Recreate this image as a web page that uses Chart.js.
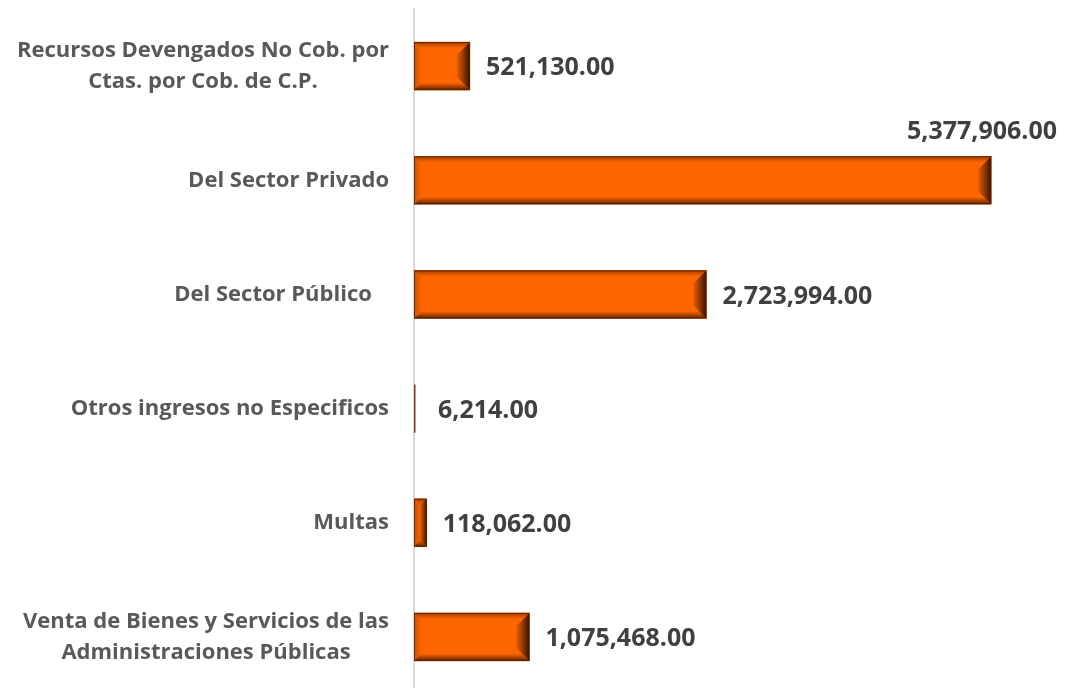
<!DOCTYPE html>
<html>
<head>
<meta charset="utf-8">
<script src="https://cdn.jsdelivr.net/npm/chart.js@4.4.1/dist/chart.umd.min.js"></script>
<style>
  html, body { margin: 0; padding: 0; background: #fff; overflow: hidden; }
  #wrap { position: relative; width: 1067px; height: 694px; }
</style>
</head>
<body>
<div id="wrap"><canvas id="chart"></canvas></div>
<script>
/* ── Data ─────────────────────────────────────────────────── */
var categories = [
  ['Recursos Devengados No Cob. por', 'Ctas. por Cob. de C.P.'],
  ['Del Sector Privado'],
  ['Del Sector Público   '],
  ['Otros ingresos no Especificos'],
  ['Multas'],
  ['Venta de Bienes y Servicios de las', 'Administraciones Públicas']
];
var values = [521130, 5377906, 2723994, 6214, 118062, 1075468];

var barColor   = '#FF6600';
var labelColor = '#595959';
var valueColor = '#404040';
var fontFamily = '"Open Sans", "DejaVu Sans", sans-serif';

function fmt(v) {
  return v.toLocaleString('en-US', { minimumFractionDigits: 2, maximumFractionDigits: 2 });
}

/* ── Bevel look on each bar ───────────────────────────────── */
var bevelPlugin = {
  id: 'bevel',
  afterDatasetsDraw: function(chart) {
    var ctx = chart.ctx;
    chart.getDatasetMeta(0).data.forEach(function(el) {
      var l = el.base, r = el.x, t = el.y - el.height / 2, b = el.y + el.height / 2;
      var w = r - l;
      ctx.save();
      if (w < 4) {
        ctx.fillStyle = '#7a3a1a';
        ctx.fillRect(l, t, Math.max(w, 1.5), b - t);
        ctx.restore();
        return;
      }
      var s = Math.min(13, w / 2);
      var g;
      // right bevel
      g = ctx.createLinearGradient(r - s, 0, r, 0);
      g.addColorStop(0, 'rgba(70,25,0,0.15)');
      g.addColorStop(1, 'rgba(40,12,0,0.95)');
      ctx.fillStyle = g;
      ctx.beginPath();
      ctx.moveTo(r, t); ctx.lineTo(r, b); ctx.lineTo(r - s, b - s); ctx.lineTo(r - s, t + s); ctx.closePath();
      ctx.fill();
      // bottom bevel
      g = ctx.createLinearGradient(0, b - 7, 0, b);
      g.addColorStop(0, 'rgba(70,25,0,0.05)');
      g.addColorStop(1, 'rgba(50,15,0,0.8)');
      ctx.fillStyle = g;
      ctx.beginPath();
      ctx.moveTo(l, b); ctx.lineTo(r, b); ctx.lineTo(r - 7, b - 7); ctx.lineTo(l + 7, b - 7); ctx.closePath();
      ctx.fill();
      // top bevel
      g = ctx.createLinearGradient(0, t, 0, t + 6);
      g.addColorStop(0, 'rgba(60,20,0,0.5)');
      g.addColorStop(1, 'rgba(60,20,0,0)');
      ctx.fillStyle = g;
      ctx.beginPath();
      ctx.moveTo(l, t); ctx.lineTo(r, t); ctx.lineTo(r - 6, t + 6); ctx.lineTo(l + 6, t + 6); ctx.closePath();
      ctx.fill();
      // left bevel
      g = ctx.createLinearGradient(l, 0, l + 8, 0);
      g.addColorStop(0, 'rgba(60,20,0,0.25)');
      g.addColorStop(1, 'rgba(60,20,0,0)');
      ctx.fillStyle = g;
      ctx.beginPath();
      ctx.moveTo(l, t); ctx.lineTo(l + 8, t + 8); ctx.lineTo(l + 8, b - 8); ctx.lineTo(l, b); ctx.closePath();
      ctx.fill();
      ctx.strokeStyle = 'rgba(80,30,0,0.8)';
      ctx.lineWidth = 1;
      ctx.strokeRect(l + 0.5, t + 0.5, w - 1, b - t - 1);
      ctx.restore();
    });
  }
};

/* ── Category labels (block right-aligned, lines centred) ─── */
var catLabelPlugin = {
  id: 'catLabels',
  afterDraw: function(chart) {
    var ctx = chart.ctx;
    var yScale = chart.scales.y;
    var right = chart.chartArea.left - 25;
    var lineH = 31;
    ctx.save();
    ctx.font = 'bold 22px ' + fontFamily;
    ctx.fillStyle = labelColor;
    ctx.textAlign = 'center';
    ctx.textBaseline = 'middle';
    categories.forEach(function(lines, i) {
      var y = yScale.getPixelForTick(i);
      var maxW = 0;
      lines.forEach(function(s) { maxW = Math.max(maxW, ctx.measureText(s.trim()).width); });
      var cx = right - maxW / 2;
      var y0 = y - (lines.length - 1) * lineH / 2;
      lines.forEach(function(s, k) {
        var sx = cx;
        if (lines.length === 1) sx = right - ctx.measureText(s).width / 2;
        ctx.fillText(s, sx, y0 + k * lineH);
      });
    });
    ctx.restore();
  }
};

/* ── Value labels ─────────────────────────────────────────── */
var valueLabelPlugin = {
  id: 'valueLabels',
  afterDatasetsDraw: function(chart) {
    var ctx = chart.ctx;
    var area = chart.chartArea;
    var maxV = Math.max.apply(null, values);
    ctx.save();
    ctx.font = 'bold 25px ' + fontFamily;
    ctx.fillStyle = valueColor;
    chart.getDatasetMeta(0).data.forEach(function(el, i) {
      var txt = fmt(values[i]);
      if (values[i] === maxV) {
        ctx.textAlign = 'right';
        ctx.textBaseline = 'middle';
        ctx.fillText(txt, area.right - 1, el.y - el.height / 2 - 24);
      } else {
        ctx.textAlign = 'left';
        ctx.textBaseline = 'middle';
        ctx.fillText(txt, Math.max(el.x + 16, area.left + 24), el.y + 2);
      }
    });
    ctx.restore();
  }
};

new Chart(document.getElementById('chart'), {
  type: 'bar',
  data: {
    labels: categories.map(function(c) { return c.join(' '); }),
    datasets: [{
      data: values,
      backgroundColor: barColor,
      borderWidth: 0,
      barThickness: 48
    }]
  },
  options: {
    indexAxis: 'y',
    responsive: true,
    maintainAspectRatio: false,
    animation: false,
    layout: { padding: { top: 9, left: 413, right: 9, bottom: 0 } },
    plugins: { legend: { display: false }, tooltip: { enabled: false } },
    scales: {
      x: {
        min: 0, max: 6000000,
        display: false
      },
      y: {
        grid: { display: false },
        ticks: { display: false },
        border: { display: true, color: '#d9d9d9', width: 2 },
        afterFit: function(s) { s.width = 1; }
      }
    }
  },
  plugins: [bevelPlugin, catLabelPlugin, valueLabelPlugin]
});
</script>
</body>
</html>
